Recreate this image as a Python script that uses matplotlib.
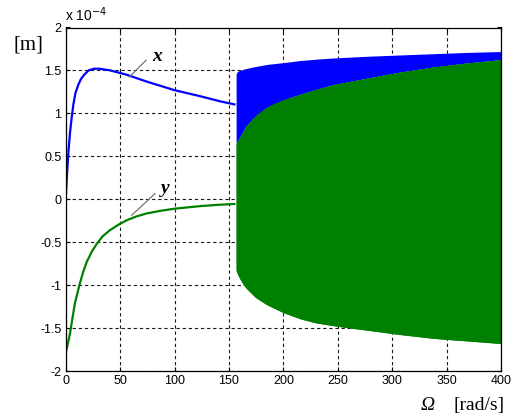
import matplotlib
matplotlib.use("Agg")
import matplotlib.pyplot as plt
import numpy as np

# ---- data (displacement in units of 1e-4 m) ----
omega_x = [0, 1, 2.5, 4, 5.5, 7, 9, 11.5, 14, 17, 21, 26, 31, 36, 41, 50, 56, 74.5, 100, 123.5, 142, 155]
x_vals  = [0.0, 0.25, 0.55, 0.78, 0.95, 1.1, 1.24, 1.33, 1.40, 1.45, 1.50, 1.52, 1.52, 1.51, 1.50, 1.47, 1.45, 1.37, 1.27, 1.20, 1.14, 1.105]

omega_y = [0, 0.3, 2, 4, 6, 8.5, 11, 13, 16, 19.3, 24, 28.5, 34, 40.7, 48, 56, 65, 74.5, 87, 100, 123.5, 140, 155]
y_vals  = [0, -1.78, -1.68, -1.56, -1.40, -1.21, -1.08, -0.98, -0.85, -0.73, -0.61, -0.52, -0.43, -0.36, -0.30, -0.245, -0.20, -0.165, -0.135, -0.11, -0.08, -0.065, -0.055]

# oscillation envelopes above ~157 rad/s
omega_xb = [156.6, 158, 160, 165, 172, 185, 203, 215, 234, 246, 277, 307, 338, 369, 400]
x_top    = [1.46, 1.49, 1.50, 1.52, 1.54, 1.57, 1.595, 1.615, 1.635, 1.645, 1.665, 1.68, 1.695, 1.71, 1.72]

omega_yt = [156.6, 160, 165, 174, 183, 192.5, 200, 208, 215, 230, 246, 262, 277, 292, 307, 322, 338, 354, 369, 385, 400]
y_top    = [0.65, 0.72, 0.84, 0.97, 1.06, 1.12, 1.16, 1.19, 1.22, 1.28, 1.335, 1.375, 1.41, 1.445, 1.48, 1.51, 1.54, 1.565, 1.587, 1.607, 1.626]

omega_yb = [156.6, 158, 162, 166, 175, 185, 200, 215, 230, 250, 277, 307, 338, 369, 400]
y_bot    = [-0.83, -0.88, -0.97, -1.04, -1.15, -1.23, -1.32, -1.39, -1.44, -1.48, -1.525, -1.575, -1.62, -1.65, -1.68]

xticks = [0, 50, 100, 150, 200, 250, 300, 350, 400]
yticks = [-2, -1.5, -1, -0.5, 0, 0.5, 1, 1.5, 2]
ytick_labels = ['-2', '-1.5', '-1', '-0.5', '0', '0.5', '1', '1.5', '2']

W, H = 519, 419
fig = plt.figure(figsize=(W / 100, H / 100), dpi=100)
fig.patch.set_facecolor('white')
ax = fig.add_axes([65.7 / W, 1 - 371 / H, (501 - 65.7) / W, (371 - 27.5) / H])

blue = (0, 0, 1)
green = (0, 0.5, 0)

# blue band (x oscillation), green band (y oscillation) on top
yt_on_xb = np.interp(omega_xb, omega_yt, y_top)
ax.fill_between(omega_xb, yt_on_xb, x_top, color=blue, lw=0, zorder=2)
ax.plot(omega_x, x_vals, color=blue, lw=1.6, zorder=3)
ax.fill_between(omega_yt, np.interp(omega_yt, omega_yb, y_bot), y_top, color=green, lw=0, zorder=4)
ax.fill_between(omega_yb, y_bot, np.interp(omega_yb, omega_yt, y_top), color=green, lw=0, zorder=4)
ax.plot(omega_y[:2], y_vals[:2], color=green, lw=0.8, zorder=3)
ax.plot(omega_y[1:], y_vals[1:], color=green, lw=1.6, zorder=3)

ax.set_xlim(0, 400)
ax.set_ylim(-2, 2)
ax.set_xticks(xticks)
ax.set_yticks(yticks)
ax.set_yticklabels(ytick_labels)
ax.tick_params(direction='in', length=3, width=0.8, labelsize=9, pad=3,
               top=True, right=True)
for lab in ax.get_xticklabels() + ax.get_yticklabels():
    lab.set_fontfamily('Liberation Sans')
ax.grid(True, color='0.1', linestyle=(0, (3, 2.5)), linewidth=0.8, zorder=1)
ax.set_axisbelow(True)
for s in ax.spines.values():
    s.set_linewidth(0.9)
    s.set_zorder(6)

# annotations
ax.plot([58.5, 73.8], [1.424, 1.618], color='0.45', lw=0.9, zorder=5)
ax.text(83.7, 1.66, 'x', fontsize=14, family='Liberation Serif', style='italic',
        fontweight='bold', ha='center', va='center', zorder=5)
ax.plot([60.7, 82.1], [-0.186, 0.066], color='0.45', lw=0.9, zorder=5)
ax.text(91.3, 0.125, 'y', fontsize=14, family='Liberation Serif', style='italic',
        fontweight='bold', ha='center', va='center', zorder=5)

fig.text(28 / W, 1 - 45 / H, '[m]', fontsize=15, family='Liberation Serif',
         ha='center', va='center')
fig.text(65 / W, 1 - 21 / H, r'x 10$^{-4}$', fontsize=10, family='Liberation Sans',
         ha='left', va='baseline')
fig.text(428 / W, 1 - 405 / H, 'Ω', fontsize=14, family='Liberation Serif',
         style='italic', ha='center', va='center')
fig.text(505 / W, 1 - 405 / H, '[rad/s]', fontsize=14, family='Liberation Serif',
         ha='right', va='center')

fig.savefig('out.png', dpi=100)
